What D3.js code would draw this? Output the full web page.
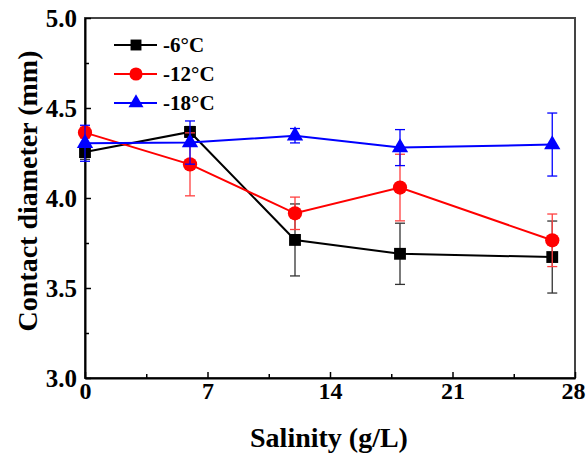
<!DOCTYPE html>
<html>
<head>
<meta charset="utf-8">
<script src="https://cdn.jsdelivr.net/npm/d3@7"></script>
<style>
  body { margin: 0; background: #fff; }
</style>
</head>
<body>
<div id="chart"></div>
<script>
// salinity values (g/L)
var salinity = [0, 6, 12, 18, 26.7];

// contact diameter (mm) and error for each temperature
var d6 = [4.255, 4.367, 3.767, 3.69, 3.672];
var e6 = [0.04, 0.03, 0.2, 0.17, 0.2];
var d12 = [4.363, 4.187, 3.915, 4.058, 3.765];
var e12 = [0.03, 0.175, 0.09, 0.185, 0.146];
var d18 = [4.304, 4.308, 4.346, 4.28, 4.297];
var e18 = [0.1, 0.12, 0.04, 0.1, 0.175];

var seriesNames = ["-6\u00b0C", "-12\u00b0C", "-18\u00b0C"];
var xTicks = [0, 7, 14, 21, 28];
var yTicks = [3.0, 3.5, 4.0, 4.5, 5.0];

var width = 586, height = 455;
var margin = {left: 85, top: 18, right: 11, bottom: 77};
var font = "'Liberation Serif', 'Times New Roman', Times, serif";

var svg = d3.select("#chart").append("svg")
    .attr("width", width)
    .attr("height", height);

var x = d3.scaleLinear().domain([0, 28]).range([margin.left, width - margin.right]);
var y = d3.scaleLinear().domain([3, 5]).range([height - margin.bottom, margin.top]);

// frame (top/right)
svg.append("rect")
    .attr("x", x(0)).attr("y", y(5))
    .attr("width", x(28) - x(0)).attr("height", y(3) - y(5))
    .attr("fill", "none").attr("stroke", "#444").attr("stroke-width", 2);

// bottom axis
var xAxis = svg.append("g")
    .attr("transform", "translate(0," + y(3) + ")")
    .call(d3.axisBottom(x).tickValues(xTicks).tickFormat(d3.format("d")).tickSizeInner(-6).tickSizeOuter(0).tickPadding(4));
svg.append("g")
    .attr("transform", "translate(0," + y(3) + ")")
    .call(d3.axisBottom(x).tickValues([3.5, 10.5, 17.5, 24.5]).tickFormat("").tickSizeInner(-4).tickSizeOuter(0))
    .select(".domain").remove();

// left axis
var yAxis = svg.append("g")
    .attr("transform", "translate(" + x(0) + ",0)")
    .call(d3.axisLeft(y).tickValues(yTicks).tickFormat(d3.format(".1f")).tickSizeInner(-6).tickSizeOuter(0).tickPadding(8));
svg.append("g")
    .attr("transform", "translate(" + x(0) + ",0)")
    .call(d3.axisLeft(y).tickValues([3.25, 3.75, 4.25, 4.75]).tickFormat("").tickSizeInner(-4).tickSizeOuter(0))
    .select(".domain").remove();

svg.selectAll(".domain").attr("stroke", "#000").attr("stroke-width", 2);
svg.selectAll(".tick line").attr("stroke", "#000").attr("stroke-width", 1.5);
xAxis.selectAll("text").style("font-size", "24px");
// keep the last label inside the page
xAxis.selectAll("text").filter(function(d) { return d === 28; }).attr("dx", -2);
yAxis.selectAll("text").style("font-size", "25px");

// axis titles
svg.append("text")
    .attr("x", 329).attr("y", 447)
    .attr("text-anchor", "middle")
    .style("font-size", "28px")
    .text("Salinity (g/L)");
svg.append("text")
    .attr("transform", "translate(37,191) rotate(-90)")
    .attr("text-anchor", "middle")
    .style("font-size", "28px")
    .text("Contact diameter (mm)");

var series = [
  {name: seriesNames[0], vals: d6, errs: e6, color: "#000", errColor: "#333", shape: d3.symbolSquare, size: 140},
  {name: seriesNames[1], vals: d12, errs: e12, color: "#ff0000", errColor: "#ff4040", shape: d3.symbolCircle, size: 160},
  {name: seriesNames[2], vals: d18, errs: e18, color: "#0000ff", errColor: "#0000ff", shape: d3.symbolTriangle, size: 115}
];

var line = d3.line()
    .x(function(d) { return x(d[0]); })
    .y(function(d) { return y(d[1]); });

series.forEach(function(s) {
  var pts = salinity.map(function(v, i) { return [v, s.vals[i], s.errs[i]]; });
  var g = svg.append("g");
  // error bars
  var eb = g.selectAll(".err").data(pts).join("g").attr("stroke", s.errColor).attr("stroke-width", 1.3);
  eb.append("line")
      .attr("x1", function(d) { return x(d[0]); }).attr("x2", function(d) { return x(d[0]); })
      .attr("y1", function(d) { return y(d[1] - d[2]); }).attr("y2", function(d) { return y(d[1] + d[2]); });
  eb.append("line")
      .attr("x1", function(d) { return x(d[0]) - 5; }).attr("x2", function(d) { return x(d[0]) + 5; })
      .attr("y1", function(d) { return y(d[1] + d[2]); }).attr("y2", function(d) { return y(d[1] + d[2]); });
  eb.append("line")
      .attr("x1", function(d) { return x(d[0]) - 5; }).attr("x2", function(d) { return x(d[0]) + 5; })
      .attr("y1", function(d) { return y(d[1] - d[2]); }).attr("y2", function(d) { return y(d[1] - d[2]); });
  g.append("path")
      .datum(pts)
      .attr("d", line)
      .attr("fill", "none")
      .attr("stroke", s.color)
      .attr("stroke-width", 2);
  g.selectAll(".pt").data(pts).join("path")
      .attr("transform", function(d) { return "translate(" + x(d[0]) + "," + y(d[1]) + ")"; })
      .attr("d", d3.symbol().type(s.shape).size(s.size))
      .attr("fill", s.color);
});

// legend
var legend = svg.append("g");
series.forEach(function(s, i) {
  var ly = 45 + i * 29;
  legend.append("line")
      .attr("x1", 114).attr("x2", 157).attr("y1", ly).attr("y2", ly)
      .attr("stroke", s.color).attr("stroke-width", 2);
  legend.append("path")
      .attr("transform", "translate(136," + ly + ")")
      .attr("d", d3.symbol().type(s.shape).size(s.size * 0.85))
      .attr("fill", s.color);
  legend.append("text")
      .attr("x", 163).attr("y", ly)
      .attr("dy", "0.35em")
      .style("font-size", "21px")
      .text(s.name);
});

svg.selectAll("text")
    .attr("font-family", null)
    .style("font-family", font)
    .style("font-weight", "bold")
    .attr("fill", "#000");
</script>
</body>
</html>
